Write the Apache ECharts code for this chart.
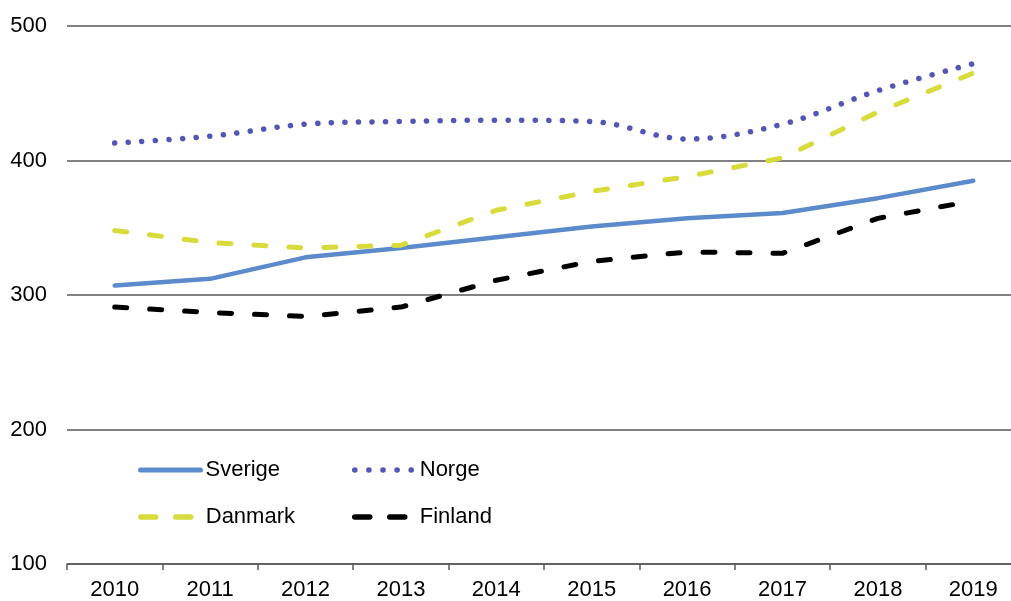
<!DOCTYPE html>
<html><head><meta charset="utf-8">
<script src="https://cdn.jsdelivr.net/npm/echarts@6/dist/echarts.min.js"></script>
<style>html,body{margin:0;padding:0;background:#fff;overflow:hidden;width:1011px;height:601px}#c{width:1021px;height:601px}</style>
</head><body><div id="c"></div>
<script>
const years = ['2010','2011','2012','2013','2014','2015','2016','2017','2018','2019'];
const sverige = [307, 312, 328, 335, 343, 351, 357, 361, 372, 385];
const norge = [413, 418, 427, 429, 430, 429, 416, 427, 452, 472];
const danmark = [348, 339, 335, 337, 363, 377, 388, 402, 436, 465];
const finland = [291, 287, 284, 291, 311, 325, 332, 331, 357, 370];
const yTicks = [100, 200, 300, 400, 500];

const font = 'Liberation Sans, Arial, sans-serif';
const C = {sv: '#5B8BCB', no: '#5356B5', da: '#D8DB3C', fi: '#000000'};
const chart = echarts.init(document.getElementById('c'), null, {renderer: 'canvas'});
const mkLegend = (name, left, top, ls) => ({
  data: [name], left: left, top: top, itemWidth: 60, itemHeight: 14, itemGap: 0,
  textStyle: {fontFamily: font, fontSize: 22, color: '#000'},
  itemStyle: {opacity: 0},
  lineStyle: ls,
  padding: 0
});
chart.setOption({
  animation: false,
  backgroundColor: '#fff',
  legend: [
    mkLegend('Sverige', 138, 459, {color: C.sv, width: 5, type: 'solid', cap: 'round'}),
    mkLegend('Norge', 352, 459, {color: C.no, width: 5.5, type: [0.1, 14], cap: 'round'}),
    mkLegend('Danmark', 138, 506, {color: C.da, width: 5.5, type: [15, 20], cap: 'round'}),
    mkLegend('Finland', 352, 506, {color: C.fi, width: 5.5, type: [15, 20], cap: 'round'})
  ],
  grid: {left: 67, top: 26, right: 0, height: 539, containLabel: false},
  xAxis: {
    type: 'category', data: years, boundaryGap: true,
    axisLine: {lineStyle: {color: '#595959', width: 1.5}},
    axisTick: {show: true, length: 6, lineStyle: {color: '#595959', width: 1.5}},
    axisLabel: {fontFamily: font, fontSize: 22, color: '#000', margin: 15}
  },
  yAxis: {
    type: 'value', min: yTicks[0], max: yTicks[yTicks.length-1], interval: 100,
    axisLine: {show: false}, axisTick: {show: false},
    axisLabel: {fontFamily: font, fontSize: 22, color: '#000', margin: 20},
    splitLine: {lineStyle: {color: '#595959', width: 1.5}}
  },
  series: [
    {name: 'Sverige', type: 'line', data: sverige, symbol: 'none',
     lineStyle: {color: C.sv, width: 4.5, cap: 'round'}, itemStyle: {color: C.sv}},
    {name: 'Norge', type: 'line', data: norge, symbol: 'none', smooth: 0.35,
     lineStyle: {color: C.no, width: 5.5, type: [0.1, 13.5], cap: 'round'}, itemStyle: {color: C.no}},
    {name: 'Danmark', type: 'line', data: danmark, symbol: 'none',
     lineStyle: {color: C.da, width: 5, type: [12, 23], cap: 'round'}, itemStyle: {color: C.da}},
    {name: 'Finland', type: 'line', data: finland, symbol: 'none',
     lineStyle: {color: C.fi, width: 5, type: [12, 23], cap: 'round'}, itemStyle: {color: C.fi}}
  ]
});
</script></body></html>
